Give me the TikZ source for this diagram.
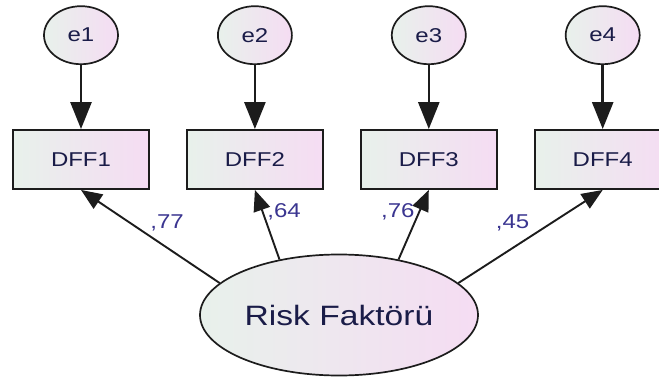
\documentclass[tikz,border=0pt]{standalone}
\usepackage{fontspec}
\setmainfont[FakeStretch=1.2]{Liberation Sans}
\usetikzlibrary{positioning,shapes,arrows.meta}

\definecolor{fillleft}{HTML}{E8F1EB}
\definecolor{fillright}{HTML}{F5DCF3}
\definecolor{inkdark}{HTML}{1A1C48}
\definecolor{coefink}{HTML}{3A3590}
\definecolor{linegray}{HTML}{1C1C1C}

\begin{document}
\begin{tikzpicture}[%
        ->,
        x=1pt,y=1pt,
        >={Triangle[length=27pt,width=21pt]},
        node distance=36pt,
        errvar/.style={%
          ellipse,
          minimum width=74pt,
          minimum height=58pt,
          draw=linegray, line width=1.7pt,
          left color=fillleft, right color=fillright,
          text=inkdark, font=\fontsize{20}{24}\selectfont
        },
        obsvar/.style={%
          rectangle,
          minimum width=136pt,
          minimum height=59pt,
          draw=linegray, line width=1.9pt,
          left color=fillleft, right color=fillright,
          text=inkdark, font=\fontsize{20}{24}\selectfont
        },
        latvar/.style={%
          ellipse,
          minimum width=278pt,
          minimum height=121pt,
          draw=linegray, line width=1.7pt,
          left color=fillleft, right color=fillright,
          text=inkdark, font=\fontsize{28}{34}\selectfont
        },
        errpath/.style={draw=linegray, line width=2.6pt},
        loading/.style={draw=linegray, line width=1.9pt, >={Triangle[length=21pt,width=17pt]}},
        coef/.style={text=coefink, font=\fontsize{20}{24}\selectfont, inner sep=0pt}
      ]
      \useasboundingbox (0,0) rectangle (659,376);

      \node[obsvar] (dff1) at (81,216.5) {DFF1};
      \node[obsvar] (dff2) [right=of dff1] {DFF2};
      \node[obsvar] (dff3) [right=of dff2] {DFF3};
      \node[obsvar] (dff4) [right=of dff3] {DFF4};
      \node[errvar] (e1) [above=64pt of dff1] {e1};
      \node[errvar] (e2) [above=64pt of dff2] {e2};
      \node[errvar] (e3) [above=64pt of dff3] {e3};
      \node[errvar] (e4) [above=64pt of dff4] {e4};
      \node[latvar] (risk) at (339,61) {Risk Faktörü};

      \path (e1) edge [errpath] (dff1)
      (e2) edge [errpath] (dff2)
      (e3) edge [errpath] (dff3)
      (e4) edge [errpath] (dff4);

      \path (risk.165) edge [loading] node[coef, pos=.65, right=20pt] {,77} (dff1.south)
      (risk.137) edge [loading] node[coef, pos=.69, right=4pt] {,64} (dff2.south)
      (risk.43) edge [loading] node[coef, pos=.69, left=4pt] {,76} (dff3.south)
      (risk.15) edge [loading] node[coef, pos=.65, left=22pt] {,45} (dff4.south);

    \end{tikzpicture}
\end{document}
